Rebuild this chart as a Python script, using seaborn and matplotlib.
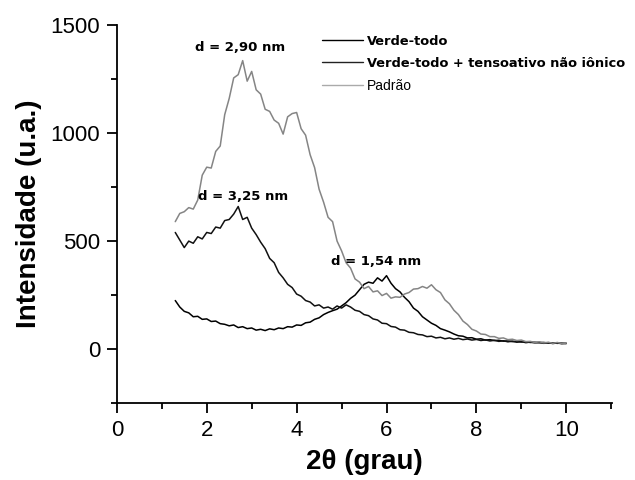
import numpy as np
import pandas as pd
import matplotlib
matplotlib.use('Agg')
import matplotlib.pyplot as plt
from matplotlib.ticker import MultipleLocator
from matplotlib.lines import Line2D
import seaborn as sns

# 2theta grid (deg), 1.3 .. 10.0
theta = np.round(np.arange(13, 101) / 10, 1)

# Verde-todo (peak near 5.8 deg, d = 1,54 nm)
verde = [225, 195, 175, 168, 150, 152, 138, 140, 128, 130,
         118, 115, 108, 112, 100, 104, 95, 98, 88, 92,
         86, 94, 90, 98, 95, 104, 102, 112, 110, 122,
         125, 138, 145, 160, 170, 178, 185, 200, 215, 235,
         250, 275, 300, 310, 305, 330, 315, 340, 305, 280,
         265, 240, 220, 190, 175, 150, 135, 120, 110, 95,
         88, 80, 70, 62, 60, 52, 53, 46, 48, 42,
         44, 40, 41, 37, 38, 35, 36, 33, 34, 31,
         32, 30, 31, 28, 29, 27, 28, 26]

# Verde-todo + tensoativo nao ionico (peak near 2.7 deg, d = 3,25 nm)
verde_tens = [540, 505, 470, 500, 490, 520, 510, 540, 535, 565,
              560, 595, 600, 625, 660, 600, 610, 560, 530, 495,
              465, 420, 400, 355, 330, 300, 285, 255, 245, 225,
              218, 200, 205, 190, 195, 185, 200, 190, 205, 195,
              180, 175, 160, 155, 140, 135, 120, 118, 105, 102,
              90, 88, 78, 76, 68, 66, 58, 60, 52, 55,
              48, 52, 46, 50, 44, 47, 42, 45, 40, 43,
              38, 41, 36, 39, 34, 37, 32, 35, 30, 33,
              29, 31, 27, 30, 26, 29, 25, 27]

# Padrao (peak near 2.8 deg, d = 2,90 nm)
padrao = [590, 628, 636, 655, 648, 690, 805, 842, 838, 915,
          940, 1085, 1160, 1255, 1270, 1335, 1240, 1285, 1200, 1180,
          1110, 1100, 1060, 1045, 995, 1075, 1090, 1095, 1020, 990,
          900, 840, 740, 680, 610, 590, 500, 455, 400, 375,
          325, 310, 280, 290, 265, 270, 248, 258, 236, 242,
          240, 255, 262, 278, 280, 290, 282, 298, 275, 262,
          228, 210, 180, 160, 130, 114, 92, 84, 70, 68,
          58, 58, 50, 52, 44, 46, 40, 42, 35, 36,
          31, 34, 29, 32, 27, 31, 26, 28]

labels = ['Verde-todo', 'Verde-todo + tensoativo não iônico', 'Padrão']
annotations = [('d = 2,90 nm', 2.74, 1398), ('d = 3,25 nm', 2.81, 708), ('d = 1,54 nm', 5.77, 407)]

df = pd.DataFrame({'theta': theta, 'Verde-todo': verde,
                   'Verde-todo + tensoativo não iônico': verde_tens, 'Padrão': padrao})
long = df.melt(id_vars='theta', var_name='amostra', value_name='intensidade')

sns.set_style('ticks')
plt.rcParams['font.family'] = ['Liberation Sans', 'DejaVu Sans']
plt.rcParams.update({'text.color': 'black', 'axes.labelcolor': 'black',
                     'xtick.color': 'black', 'ytick.color': 'black',
                     'axes.edgecolor': 'black'})

fig = plt.figure(figsize=(6.35, 4.8), dpi=100)
ax = fig.add_axes([0.184, 0.160, 0.780, 0.788])

colors = {'Verde-todo': '#000000', 'Verde-todo + tensoativo não iônico': '#111111', 'Padrão': '#858585'}
sns.lineplot(data=long, x='theta', y='intensidade', hue='amostra', hue_order=labels,
             palette=colors, linewidth=1.1, ax=ax, legend=False)

# legend handles (Padrao entry is lighter in the original)
handles = [Line2D([], [], color='black', lw=1.0),
           Line2D([], [], color='#222222', lw=1.0),
           Line2D([], [], color='#aaaaaa', lw=1.0)]
leg = fig.legend(handles, labels, loc='upper left', bbox_to_anchor=(0.499, 0.938),
                 frameon=False, prop={'family': 'DejaVu Sans', 'size': 9.4},
                 handlelength=3.1, handletextpad=0.35, labelspacing=0.68, borderaxespad=0)
for t in leg.get_texts()[:2]:
    t.set_fontweight('bold')
leg.get_texts()[2].set_fontfamily('Liberation Sans')
leg.get_texts()[2].set_fontsize(10)

for txt, xx, yy in annotations:
    ax.text(xx, yy, txt, ha='center', va='center', fontsize=9.5, fontweight='bold',
            family='DejaVu Sans')

ax.set_xlim(0, 11.02)
ax.set_ylim(-250, 1500)
ax.xaxis.set_major_locator(MultipleLocator(2))
ax.xaxis.set_minor_locator(MultipleLocator(1))
ax.yaxis.set_major_locator(MultipleLocator(500))
ax.yaxis.set_minor_locator(MultipleLocator(250))
ax.tick_params(which='major', direction='out', length=7, width=1.3, labelsize=16, pad=5)
ax.tick_params(which='minor', direction='out', length=4, width=1.3)
for s in ['top', 'right']:
    ax.spines[s].set_visible(False)
for s in ['left', 'bottom']:
    ax.spines[s].set_linewidth(1.3)

ax.set_xlabel('2θ (grau)', fontsize=20, fontweight='bold', labelpad=6)
ax.set_ylabel('Intensidade (u.a.)', fontsize=20, fontweight='bold', labelpad=6)

fig.savefig('out.png', dpi=100)
